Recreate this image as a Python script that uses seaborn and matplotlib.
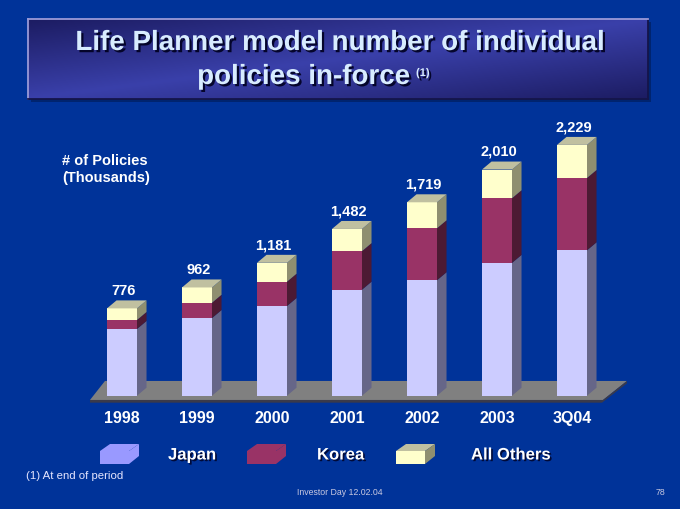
import numpy as np
import pandas as pd
import matplotlib
matplotlib.use("Agg")
import matplotlib.pyplot as plt
import seaborn as sns
from matplotlib.patches import Polygon, Rectangle
import matplotlib.patheffects as pe

# ---------------- data ----------------
years = ["1998", "1999", "2000", "2001", "2002", "2003", "3Q04"]
japan = [593, 690, 797, 942, 1026, 1180, 1292]
korea = [80, 136, 216, 343, 462, 575, 643]
others = [103, 136, 168, 197, 231, 255, 294]
total_labels = ["776", "962", "1,181", "1,482", "1,719", "2,010", "2,229"]
legend_labels = ["Japan", "Korea", "All Others"]
title_line1 = "Life Planner model number of individual"
title_line2 = "policies in-force"
y_caption = "# of Policies\n(Thousands)"
footnote = "(1) At end of period"
footer = "Investor Day 12.02.04"
page_no = "78"

# ---------------- style ----------------
sns.set_theme(style="white")
plt.rcParams['font.family'] = ['Liberation Sans', 'DejaVu Sans']

BG = '#003399'
C_JP, C_JP_SIDE = '#ccccff', '#666688'
C_KR, C_KR_SIDE = '#993366', '#4c1a33'
C_OT, C_OT_SIDE, C_OT_TOP = '#ffffcc', '#8f8f70', '#c0c0a0'
C_LEG_JP = '#9999ff'

W, H = 680, 510
def fx(p): return p / W
def fy(p): return 1 - p / H

fig = plt.figure(figsize=(6.8, 5.1), dpi=100, facecolor=BG)

df = pd.DataFrame({'year': years, 'japan': japan, 'korea': korea, 'others': others})
df['jk'] = df['japan'] + df['korea']
df['total'] = df['jk'] + df['others']

ax = fig.add_axes([84.5 / W, (H - 396.7) / H, 525 / W, 296.7 / H])
ax.set_facecolor('none')

BW = 0.4
sns.barplot(data=df, x='year', y='total', color=C_OT, width=BW, saturation=1,
            linewidth=0, ax=ax, zorder=3)
sns.barplot(data=df, x='year', y='jk', color=C_KR, width=BW, saturation=1,
            linewidth=0, ax=ax, zorder=3)
sns.barplot(data=df, x='year', y='japan', color=C_JP, width=BW, saturation=1,
            linewidth=0, ax=ax, zorder=3)

ax.set_xlim(-0.5, 6.5)
ax.set_ylim(0, 2637)

# depth in data units (from the axes scales)
dx = 0.127
dy = 71

# floor
floor = Polygon([(-0.427, -38), (6.413, -38), (6.733, 131), (-0.227, 131)],
                closed=True, facecolor='#808080', edgecolor='none', zorder=1, clip_on=False)
ax.add_patch(floor)
floor_edge = Polygon([(-0.427, -38), (6.413, -38), (6.733, 131), (6.733, 110),
                      (6.40, -62), (-0.427, -62)],
                     closed=True, facecolor='#3a3a4a', edgecolor='none', zorder=1, clip_on=False)
ax.add_patch(floor_edge)

# 3D sides and tops
for i in range(len(years)):
    xr = i + BW / 2
    xl = i - BW / 2
    segs = [(0, df['japan'][i], C_JP_SIDE),
            (df['japan'][i], df['jk'][i], C_KR_SIDE),
            (df['jk'][i], df['total'][i], C_OT_SIDE)]
    for y0, y1, c in segs:
        ax.add_patch(Polygon([(xr, y0), (xr + dx, y0 + dy), (xr + dx, y1 + dy), (xr, y1)],
                             closed=True, facecolor=c, edgecolor='none', zorder=3, clip_on=False))
    T = df['total'][i]
    ax.add_patch(Polygon([(xl, T), (xr, T), (xr + dx, T + dy), (xl + dx, T + dy)],
                         closed=True, facecolor=C_OT_TOP, edgecolor='none', zorder=3, clip_on=False))
    ax.annotate(total_labels[i], xy=(i, T), xytext=(1, 13.5), textcoords='offset points',
                ha='center', va='center', fontsize=10.5, fontweight='bold', color='white',
                annotation_clip=False)

for s in ax.spines.values():
    s.set_visible(False)
ax.set_yticks([])
ax.set_xlabel('')
ax.set_ylabel('')
ax.tick_params(axis='x', length=0, pad=10, colors='white', labelsize=11.5)
for lbl in ax.get_xticklabels():
    lbl.set_fontweight('bold')

# ---------------- title box ----------------
shadow = Rectangle((fx(31), fy(103)), fx(648) - fx(28), (100 - 20) / H,
                   transform=fig.transFigure, facecolor='#00246f', edgecolor='none', zorder=0)
fig.add_artist(shadow)
tax = fig.add_axes([fx(28), fy(100), fx(648) - fx(28), (100 - 20) / H])
u = np.linspace(0, 1, 620)[None, :]
v = np.linspace(0, 1, 80)[:, None]
t = 1 - np.abs(u + v - 1)
dark = np.array([0x1c, 0x1c, 0x62]) / 255
light = np.array([0x3a, 0x40, 0xaa]) / 255
grad = dark[None, None, :] + (light - dark)[None, None, :] * t[:, :, None]
tax.imshow(grad, aspect='auto', interpolation='bilinear')
tax.set_xticks([])
tax.set_yticks([])
for k, s in tax.spines.items():
    s.set_linewidth(1.3)
    s.set_color('#9a9ad8' if k in ('left', 'top') else '#15154a')

shadow_fx = [pe.SimplePatchShadow(offset=(1.6, -1.6), shadow_rgbFace='#000020', alpha=0.9), pe.Normal()]
fig.text(fx(340), fy(44), title_line1, ha='center', va='center', fontsize=20,
         fontweight='bold', color='#d8ecff', path_effects=shadow_fx)
fig.text(fx(410), fy(78), title_line2, ha='right', va='center', fontsize=20,
         fontweight='bold', color='#d8ecff', path_effects=shadow_fx)
fig.text(fx(416), fy(74), "(1)", ha='left', va='center', fontsize=8,
         fontweight='bold', color='#d8ecff', path_effects=shadow_fx)

# ---------------- captions ----------------
fig.text(fx(62), fy(169.5), y_caption, ha='left', va='center', fontsize=10.5,
         fontweight='bold', color='white', linespacing=1.3)

# ---------------- legend ----------------
def fpoly(pts, color):
    fig.add_artist(Polygon([(fx(x), fy(y)) for x, y in pts], closed=True,
                           transform=fig.transFigure, facecolor=color, edgecolor='none'))

def swatch(x0, front, top, side):
    fpoly([(x0, 452), (x0 + 29, 452), (x0 + 29, 465), (x0, 465)], front)
    fpoly([(x0, 452), (x0 + 10, 445), (x0 + 39, 445), (x0 + 29, 452)], top)
    fpoly([(x0 + 29, 452), (x0 + 39, 445), (x0 + 39, 457), (x0 + 29, 465)], side)

swatch(100, C_LEG_JP, C_LEG_JP, C_LEG_JP)
swatch(247, C_KR, C_KR, C_KR)
swatch(396, C_OT, C_OT_TOP, C_OT_SIDE)

leg_fx = [pe.SimplePatchShadow(offset=(1.2, -1.2), shadow_rgbFace='#000020', alpha=0.8), pe.Normal()]
for xp, lab in zip([168, 317, 471], legend_labels):
    fig.text(fx(xp), fy(456), lab, ha='left', va='center', fontsize=12,
             fontweight='bold', color='white', path_effects=leg_fx)

fig.text(fx(26), fy(476), footnote, ha='left', va='center', fontsize=8.2, color='#e6e6ff')
fig.text(fx(340), fy(493), footer, ha='center', va='center', fontsize=6.3,
         color='#c8c8e0', family=['Liberation Sans Narrow', 'Liberation Sans'])
fig.text(fx(660), fy(493), page_no, ha='center', va='center', fontsize=6.3,
         color='#c8c8e0', family=['Liberation Sans Narrow', 'Liberation Sans'])

fig.savefig('out.png', dpi=100, facecolor=BG)
